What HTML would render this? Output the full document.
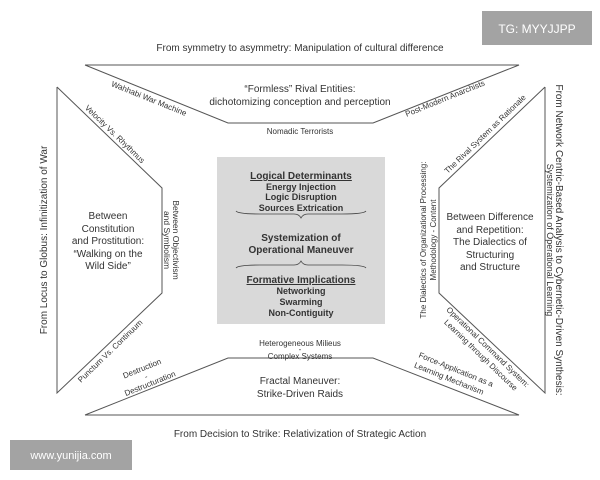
<!DOCTYPE html>
<html><head><meta charset="utf-8"><style>
html,body{margin:0;padding:0;background:#fff;}
svg{display:block;}
text{font-family:"Liberation Sans",sans-serif;fill:#333;}
</style></head><body>
<svg width="600" height="480" viewBox="0 0 600 480" xmlns="http://www.w3.org/2000/svg">
<rect width="600" height="480" fill="#fff"/>
<g stroke="#555" stroke-width="1" fill="none">
<polyline points="85,65 519,65 373,123 228,123 85,65"/>
<polyline points="85,415 519,415 373,358 228,358 85,415"/>
<polyline points="57,87 162,188 162,293 57,393 57,87"/>
<polyline points="545,87 439,188 439,293 545,393 545,87"/>
</g>
<rect x="217" y="157" width="168" height="167" fill="#d9d9d9"/>
<g text-anchor="middle">
<text x="300" y="51" font-size="10">From symmetry to asymmetry: Manipulation of cultural difference</text>
<text x="300" y="437" font-size="10">From Decision to Strike: Relativization of Strategic Action</text>
<text x="300" y="92" font-size="10">“Formless” Rival Entities:</text>
<text x="300" y="105" font-size="10">dichotomizing conception and perception</text>
<text x="300" y="134" font-size="8">Nomadic Terrorists</text>
<text x="300" y="346" font-size="8">Heterogeneous Milieus</text>
<text x="300" y="352" font-size="8">-</text>
<text x="300" y="359" font-size="8">Complex Systems</text>
<text x="300" y="384" font-size="10">Fractal Maneuver:</text>
<text x="300" y="397" font-size="10">Strike-Driven Raids</text>
<text x="108" y="219" font-size="10">Between</text>
<text x="108" y="232" font-size="10">Constitution</text>
<text x="108" y="244" font-size="10">and Prostitution:</text>
<text x="108" y="257" font-size="10">“Walking on the</text>
<text x="108" y="269" font-size="10">Wild Side”</text>
<text x="490" y="220" font-size="10">Between Difference</text>
<text x="490" y="233" font-size="10">and Repetition:</text>
<text x="490" y="245" font-size="10">The Dialectics of</text>
<text x="490" y="258" font-size="10">Structuring</text>
<text x="490" y="270" font-size="10">and Structure</text>
<g font-weight="bold" font-size="9" fill="#222">
<text x="301" y="179" font-size="10" text-decoration="underline">Logical Determinants</text>
<text x="301" y="190">Energy Injection</text>
<text x="301" y="200">Logic Disruption</text>
<text x="301" y="211">Sources Extrication</text>
<text x="301" y="241" font-size="10">Systemization of</text>
<text x="301" y="253" font-size="10">Operational Maneuver</text>
<text x="301" y="283" font-size="10" text-decoration="underline">Formative Implications</text>
<text x="301" y="294">Networking</text>
<text x="301" y="305">Swarming</text>
<text x="301" y="316">Non-Contiguity</text>
</g>
<text transform="translate(47,240) rotate(-90)" font-size="10">From Locus to Globus: Infinitization of War</text>
<text transform="translate(556,240) rotate(90)" font-size="10">From Network Centric-Based Analysis to Cybernetic-Driven Synthesis:</text>
<text transform="translate(547,240) rotate(90)" font-size="9">Systemization of Operational Learning</text>
<text transform="translate(173,240) rotate(90)" font-size="8.5">Between Objectivism</text>
<text transform="translate(164,240) rotate(90)" font-size="8.5">and Symbolism</text>
<text transform="translate(426,240) rotate(-90)" font-size="8">The Dialectics of Organizational Processing:</text>
<text transform="translate(436,240) rotate(-90)" font-size="8">Methodology - Content</text>
<text transform="translate(148,101) rotate(22)" font-size="8">Wahhabi War Machine</text>
<text transform="translate(113,136) rotate(44)" font-size="8">Velocity Vs. Rhythmus</text>
<text transform="translate(446,101) rotate(-22)" font-size="8">Post-Modern Anarchists</text>
<text transform="translate(487,136) rotate(-44)" font-size="8">The Rival System as Rationale</text>
<text transform="translate(112,353) rotate(-44)" font-size="8">Punctum Vs. Continuum</text>
<text transform="translate(143,371) rotate(-22)" font-size="8">Destruction</text>
<text transform="translate(147,379) rotate(-22)" font-size="8">-</text>
<text transform="translate(151,386) rotate(-22)" font-size="8">Destructuration</text>
<text transform="translate(486,349) rotate(44)" font-size="8">Operational Command System:</text>
<text transform="translate(479,357) rotate(44)" font-size="8">Learning through Discourse</text>
<text transform="translate(455,372) rotate(22)" font-size="8">Force-Application as a</text>
<text transform="translate(448,381) rotate(22)" font-size="8">Learning Mechanism</text>
</g>
<g stroke="#444" stroke-width="0.8" fill="none">
<path d="M236,211 Q238,214 260,214 L294,214 Q299,214 301,218 Q303,214 308,214 L342,214 Q364,214 366,211"/>
<path d="M236,268 Q238,265 260,265 L294,265 Q299,265 301,261 Q303,265 308,265 L342,265 Q364,265 366,268"/>
</g>
<rect x="482" y="11" width="110" height="34" fill="#a3a3a3"/>
<text x="537" y="33" font-size="12" text-anchor="middle" style="fill:#fff">TG: MYYJJPP</text>
<rect x="10" y="440" width="122" height="30" fill="#a3a3a3"/>
<text x="71" y="459" font-size="11" text-anchor="middle" style="fill:#fff">www.yunijia.com</text>
</svg>
</body></html>
